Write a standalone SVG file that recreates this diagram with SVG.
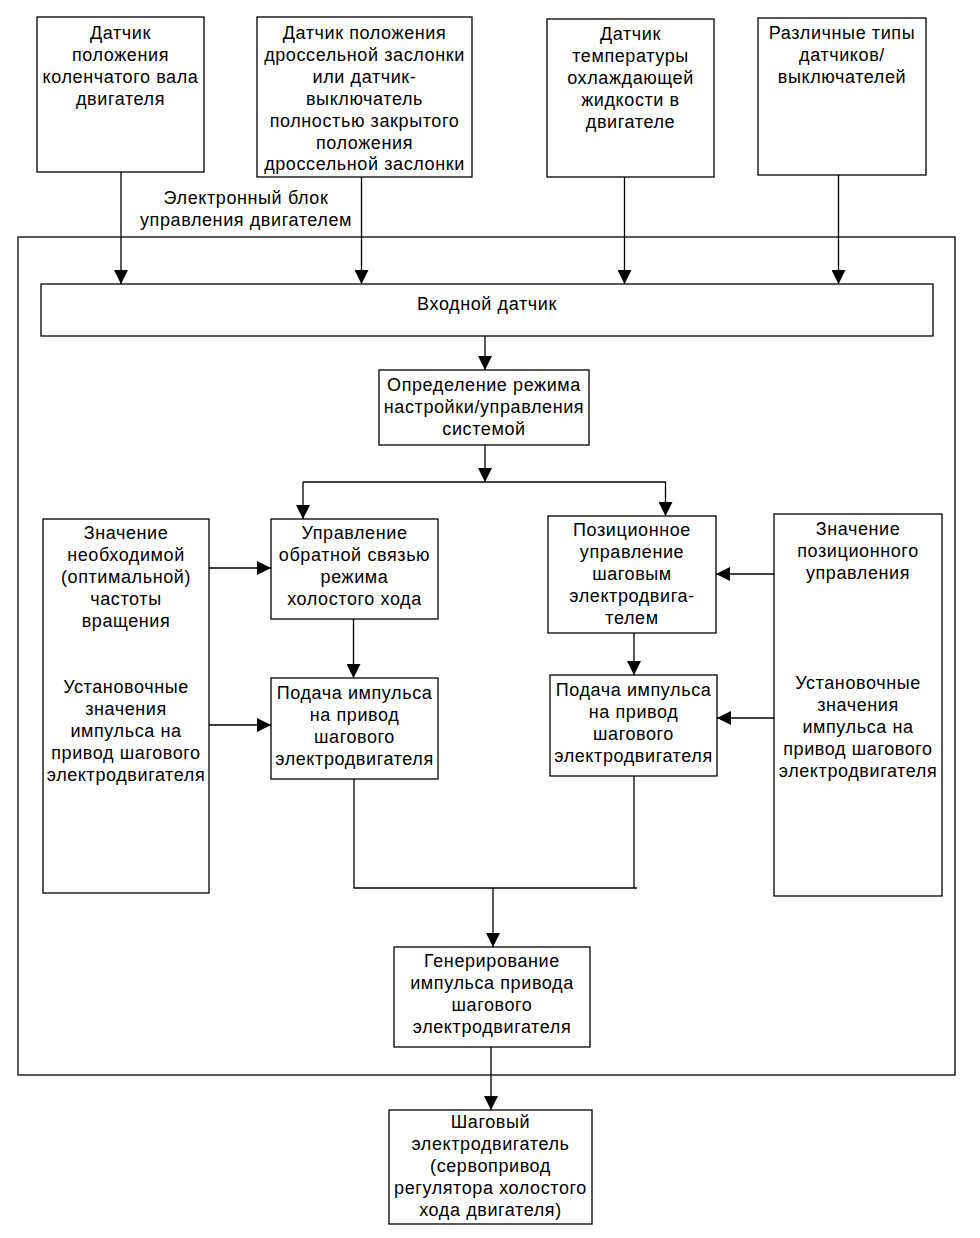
<svg xmlns="http://www.w3.org/2000/svg" width="980" height="1238" viewBox="0 0 980 1238">
<defs>
<style>
rect{fill:#fff;stroke:#000;stroke-width:1.3}
text{font-family:"Liberation Sans",Arial,sans-serif;font-size:18px;letter-spacing:0.6px;fill:#000;text-anchor:middle}
.c{fill:none;stroke:#000;stroke-width:1.3}
</style>
<marker id="ah" markerUnits="userSpaceOnUse" markerWidth="14" markerHeight="14" viewBox="0 0 14 14" refX="14" refY="7" orient="auto">
<path d="M0,0 L14,7 L0,14 Z" fill="#000"/>
</marker>
</defs>
<rect width="980" height="1238" style="fill:#fff;stroke:none"/>
<g id="ecu">
<rect x="18" y="237" width="937" height="838"/>
<text x="246" y="204">Электронный блок</text>
<text x="246" y="226">управления двигателем</text>
</g>
<g id="s1"><rect x="37" y="17" width="167" height="155"/>
<text x="120.5" y="39">Датчик</text><text x="120.5" y="61">положения</text><text x="120.5" y="83">коленчатого вала</text><text x="120.5" y="105">двигателя</text></g>
<g id="s2"><rect x="257" y="17" width="215" height="160"/>
<text x="364.5" y="39">Датчик положения</text><text x="364.5" y="61">дроссельной заслонки</text><text x="364.5" y="83">или датчик-</text><text x="364.5" y="105">выключатель</text><text x="364.5" y="127">полностью закрытого</text><text x="364.5" y="149">положения</text><text x="364.5" y="170">дроссельной заслонки</text></g>
<g id="s3"><rect x="547" y="19" width="167" height="158"/>
<text x="630.5" y="40">Датчик</text><text x="630.5" y="62">температуры</text><text x="630.5" y="84">охлаждающей</text><text x="630.5" y="106">жидкости в</text><text x="630.5" y="128">двигателе</text></g>
<g id="s4"><rect x="758" y="18" width="168" height="157"/>
<text x="842" y="39">Различные типы</text><text x="842" y="61">датчиков/</text><text x="842" y="83">выключателей</text></g>
<g id="input"><rect x="41" y="284" width="892" height="52"/>
<text x="487" y="310">Входной датчик</text></g>
<g id="mode"><rect x="379" y="370" width="210" height="75"/>
<text x="484" y="391">Определение режима</text><text x="484" y="413">настройки/управления</text><text x="484" y="435">системой</text></g>
<g id="idle"><rect x="271" y="519" width="167" height="100"/>
<text x="354.5" y="539">Управление</text><text x="354.5" y="561">обратной связью</text><text x="354.5" y="583">режима</text><text x="354.5" y="605">холостого хода</text></g>
<g id="rpm"><rect x="43" y="519" width="166" height="374"/>
<text x="126" y="539">Значение</text><text x="126" y="561">необходимой</text><text x="126" y="583">(оптимальной)</text><text x="126" y="605">частоты</text><text x="126" y="627">вращения</text>
<text x="126" y="693">Установочные</text><text x="126" y="715">значения</text><text x="126" y="737">импульса на</text><text x="126" y="759">привод шагового</text><text x="126" y="781">электродвигателя</text></g>
<g id="pos"><rect x="548" y="516" width="168" height="117"/>
<text x="632" y="536">Позиционное</text><text x="632" y="558">управление</text><text x="632" y="580">шаговым</text><text x="632" y="602">электродвига-</text><text x="632" y="624">телем</text></g>
<g id="posval"><rect x="774" y="514" width="168" height="382"/>
<text x="858" y="535">Значение</text><text x="858" y="557">позиционного</text><text x="858" y="579">управления</text>
<text x="858" y="689">Установочные</text><text x="858" y="711">значения</text><text x="858" y="733">импульса на</text><text x="858" y="755">привод шагового</text><text x="858" y="777">электродвигателя</text></g>
<g id="pulseL"><rect x="271" y="678" width="167" height="101"/>
<text x="354.5" y="699">Подача импульса</text><text x="354.5" y="721">на привод</text><text x="354.5" y="743">шагового</text><text x="354.5" y="765">электродвигателя</text></g>
<g id="pulseR"><rect x="550" y="675" width="167" height="101"/>
<text x="633.5" y="696">Подача импульса</text><text x="633.5" y="718">на привод</text><text x="633.5" y="740">шагового</text><text x="633.5" y="762">электродвигателя</text></g>
<g id="gen"><rect x="394" y="947" width="196" height="100"/>
<text x="492" y="967">Генерирование</text><text x="492" y="989">импульса привода</text><text x="492" y="1011">шагового</text><text x="492" y="1033">электродвигателя</text></g>
<g id="motor"><rect x="389" y="1110" width="203" height="114"/>
<text x="490.5" y="1128">Шаговый</text><text x="490.5" y="1150">электродвигатель</text><text x="490.5" y="1172">(сервопривод</text><text x="490.5" y="1194">регулятора холостого</text><text x="490.5" y="1216">хода двигателя)</text></g>
<g id="connectors" class="c">
<path class="c" d="M121,172 V284" marker-end="url(#ah)"/>
<path class="c" d="M361.5,177 V284" marker-end="url(#ah)"/>
<path class="c" d="M624.5,177 V284" marker-end="url(#ah)"/>
<path class="c" d="M838.5,175 V284" marker-end="url(#ah)"/>
<path class="c" d="M485,336 V370" marker-end="url(#ah)"/>
<path class="c" d="M485,445 V482" marker-end="url(#ah)"/>
<path class="c" d="M303,482 H666"/>
<path class="c" d="M303,482 V519" marker-end="url(#ah)"/>
<path class="c" d="M665.5,482 V516" marker-end="url(#ah)"/>
<path class="c" d="M209,568 H271" marker-end="url(#ah)"/>
<path class="c" d="M774,574 H716" marker-end="url(#ah)"/>
<path class="c" d="M353.5,619 V678" marker-end="url(#ah)"/>
<path class="c" d="M634,633 V675" marker-end="url(#ah)"/>
<path class="c" d="M209,725 H271" marker-end="url(#ah)"/>
<path class="c" d="M774,718 H717" marker-end="url(#ah)"/>
<path class="c" d="M354,779 V888 H637"/>
<path class="c" d="M634,776 V888"/>
<path class="c" d="M493,888 V947" marker-end="url(#ah)"/>
<path class="c" d="M491,1047 V1110" marker-end="url(#ah)"/>
</g>
</svg>
